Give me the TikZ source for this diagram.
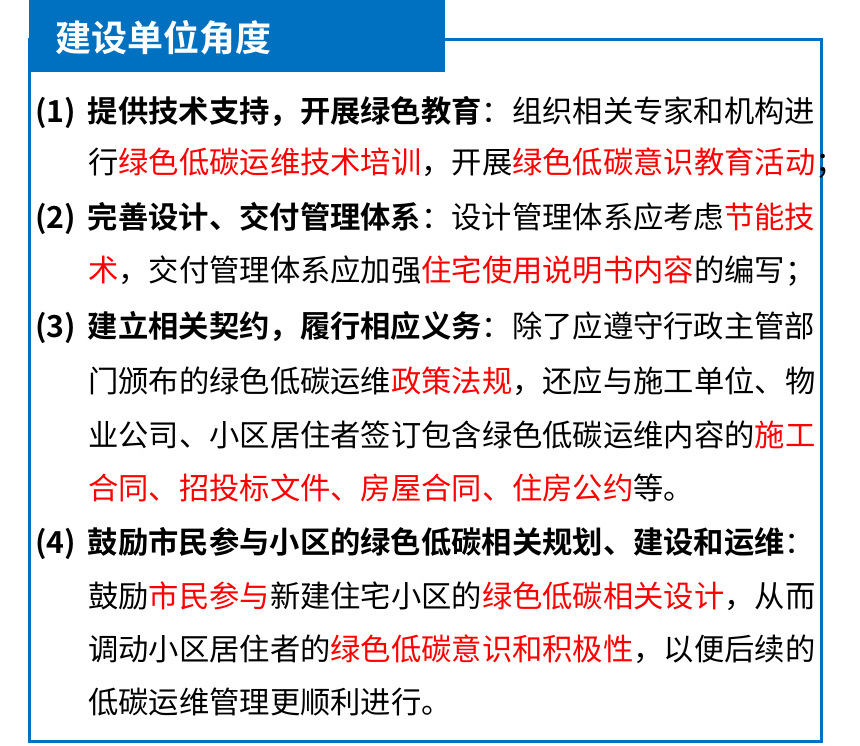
\documentclass[tikz,border=0pt]{standalone}
\usepackage{fontspec}
\setmainfont{Noto Sans CJK SC}
\newfontfamily\cjkb{Noto Sans CJK SC Bold}
\definecolor{hblue}{HTML}{0070C0}
\definecolor{hred}{HTML}{FF0000}
\newcommand{\rd}[1]{\textcolor{hred}{#1}}
\newcommand{\bd}[1]{{\cjkb #1}}
\begin{document}
\begin{tikzpicture}[x=1pt,y=-1pt,
  ln/.style={anchor=west,inner sep=0pt,font=\fontsize{30.3}{30}\selectfont},
  hd/.style={anchor=west,inner sep=0pt,font=\cjkb\fontsize{36}{36}\selectfont,text=white}]
\useasboundingbox (0,0) rectangle (860,745);
\fill[hblue] (29,0) rectangle (445,72);
\draw[hblue,line width=3pt] (29.5,39.5) rectangle (821,741);
\node[hd] (h) at (55,38) {建设单位角度};
\node[ln] (l1) at (35,112) {\bd{(1)\hspace{12pt}提供技术支持，开展绿色教育}：组织相关专家和机构进};
\node[ln] (l2) at (88,163) {行\rd{绿色低碳运维技术培训}，开展\rd{绿色低碳意识教育活动}；};
\node[ln] (l3) at (35,218) {\bd{(2)\hspace{12pt}完善设计、交付管理体系}：设计管理体系应考虑\rd{节能技}};
\node[ln] (l4) at (88,271) {\rd{术}，交付管理体系应加强\rd{住宅使用说明书内容}的编写；};
\node[ln] (l5) at (35,328) {\bd{(3)\hspace{12pt}建立相关契约，履行相应义务}：除了应遵守行政主管部};
\node[ln] (l6) at (88,381) {门颁布的绿色低碳运维\rd{政策法规}，还应与施工单位、物};
\node[ln] (l7) at (88,435) {业公司、小区居住者签订包含绿色低碳运维内容的\rd{施工}};
\node[ln] (l8) at (88,488) {\rd{合同、招投标文件、房屋合同、住房公约}等。};
\node[ln] (l9) at (35,543) {\bd{(4)\hspace{12pt}鼓励市民参与小区的绿色低碳相关规划、建设和运维}：};
\node[ln] (l10) at (88,596) {鼓励\rd{市民参与}新建住宅小区的\rd{绿色低碳相关设计}，从而};
\node[ln] (l11) at (88,649) {调动小区居住者的\rd{绿色低碳意识和积极性}，以便后续的};
\node[ln] (l12) at (88,702) {低碳运维管理更顺利进行。};
\end{tikzpicture}
\end{document}
